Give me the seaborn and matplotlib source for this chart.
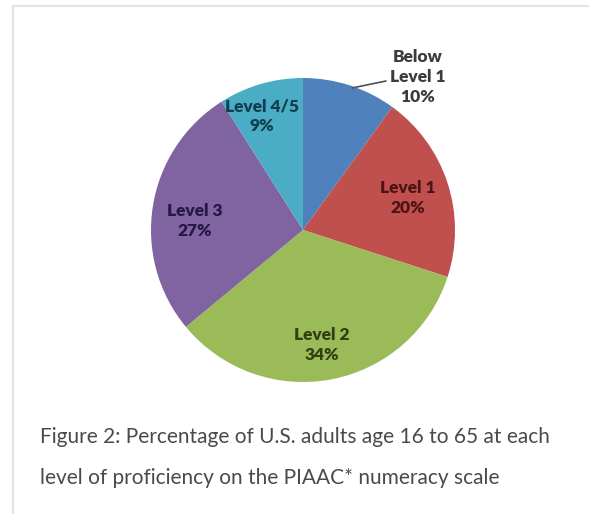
import matplotlib
matplotlib.use("Agg")
import matplotlib.pyplot as plt
from matplotlib.lines import Line2D
import seaborn as sns

# ---- data ----
categories = ["Below\nLevel 1", "Level 1", "Level 2", "Level 3", "Level 4/5"]
values = [10, 20, 34, 27, 9]
pct_labels = ["10%", "20%", "34%", "27%", "9%"]
caption_lines = [
    "Figure 2: Percentage of U.S. adults age 16 to 65 at each",
    "level of proficiency on the PIAAC* numeracy scale",
]

sns.set_theme(style="white")
plt.rcParams["font.family"] = ["Lato", "DejaVu Sans"]

slice_colors = sns.color_palette(["#4F81BD", "#C0504D", "#9BBB59", "#8064A2", "#4BACC6"])
text_colors = ["#3c3c3c", "#4e1414", "#323f12", "#261744", "#123f50"]

W, H = 589, 514
fig = plt.figure(figsize=(W / 100, H / 100), dpi=100)
fig.patch.set_facecolor("white")

# pie axes: centre (303, 230) px, radius 152 px
cx, cy, r = 303, 230, 152
ax = fig.add_axes([(cx - r) / W, 1 - (cy + r) / H, 2 * r / W, 2 * r / H])
wedges, _ = ax.pie(values, colors=slice_colors, startangle=90, counterclock=False,
                   radius=1.0, wedgeprops=dict(linewidth=0))
ax.set_xlim(-1, 1)
ax.set_ylim(-1, 1)
ax.set_aspect("equal")
ax.axis("off")

def px2d(px, py):
    return (px - cx) / r, (cy - py) / r

# label positions (pixel centres of the two-line label blocks)
label_pos = [(418, 77), (408, 198), (322, 345), (195, 221), (262, 116)]
for i, (name, pct) in enumerate(zip(categories, pct_labels)):
    x, y = px2d(*label_pos[i])
    ax.text(x, y, f"{name}\n{pct}", ha="center", va="center", fontsize=12.5,
            fontweight="heavy", color=text_colors[i], linespacing=1.3,
            clip_on=False)

# leader line for "Below Level 1"
(x0, y0), (x1, y1) = px2d(352, 88), px2d(386, 81)
ax.add_line(Line2D([x0, x1], [y0, y1], color="#505050", lw=1.2, clip_on=False))

# caption
fig.text(40 / W, 1 - 437 / H, caption_lines[0], ha="left", va="center",
         fontsize=15, color="#4a4a4a")
fig.text(40 / W, 1 - 478 / H, caption_lines[1], ha="left", va="center",
         fontsize=15, color="#4a4a4a")

# light frame
fig.add_artist(Line2D([12.5 / W, 1], [1 - 5.5 / H, 1 - 5.5 / H], transform=fig.transFigure,
                      color="#e2e2e2", lw=1.5))
fig.add_artist(Line2D([12.5 / W, 12.5 / W], [0, 1 - 5.5 / H], transform=fig.transFigure,
                      color="#e2e2e2", lw=1.5))

fig.savefig("out.png", dpi=100, facecolor="white")
